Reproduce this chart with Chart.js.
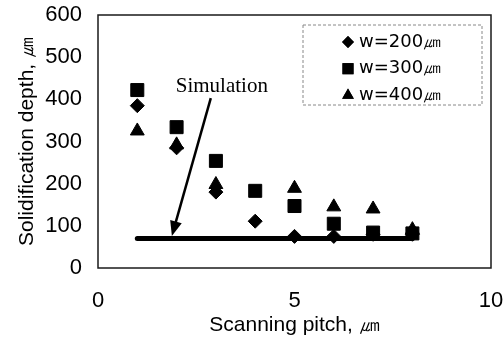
<!DOCTYPE html>
<html>
<head>
<meta charset="utf-8">
<script src="https://cdn.jsdelivr.net/npm/chart.js@4.4.1/dist/chart.umd.min.js"></script>
<style>
html,body{margin:0;padding:0;background:#fff}
#wrap{width:503px;height:346px}
</style>
</head>
<body>
<div id="wrap"><canvas id="chart"></canvas></div>
<script>

/* data */

const pitch = [1,2,3,4,5,6,7,8]
const w200 = [385,285,180,111,75,75,80,80]
const w300 = [422,334,254,183,147,105,84,82]
const w400 = [325,292,198,null,189,145,140,91]

const simPitch = [1,8]
const simDepth = [70,70]

const seriesLabels = ["w=200\u339b","w=300\u339b","w=400\u339b"]

const xTicks = [0,5,10]
const yTicks = [0,100,200,300,400,500,600]

/* annotation anchors (data units) */
const arrowTail = {x:2.87, y:403}
const arrowTip = {x:1.88, y:76}
const simText = {x:3.15, y:430, text:"Simulation"}

const toPoints = (xs,ys)=>xs.map((x,i)=>({x:x,y:ys[i]})).filter(p=>p.y!==null)

const sansFont = "'Liberation Sans', Arial, sans-serif"

/* =========================
   PLOT FRAME
========================= */

const framePlugin = {
id:"frame",
afterDatasetsDraw(chart){
const {ctx, chartArea:a} = chart
ctx.save()
ctx.strokeStyle = "#1a1a1a"
ctx.lineWidth = 1.5
ctx.strokeRect(a.left, a.top, a.right-a.left, a.bottom-a.top)
ctx.restore()
}
}

/* =========================
   ARROW + LABEL
========================= */

const arrowPlugin = {
id:"arrow",
afterDatasetsDraw(chart){
const {ctx, scales:{x, y}} = chart
const x0 = x.getPixelForValue(arrowTail.x), y0 = y.getPixelForValue(arrowTail.y)
const x1 = x.getPixelForValue(arrowTip.x), y1 = y.getPixelForValue(arrowTip.y)
const ang = Math.atan2(y1-y0, x1-x0)
const head = 15, half = 6
ctx.save()
ctx.strokeStyle = "#000"
ctx.fillStyle = "#000"
ctx.lineWidth = 2.5
ctx.beginPath()
ctx.moveTo(x0,y0)
ctx.lineTo(x1 - Math.cos(ang)*head*0.8, y1 - Math.sin(ang)*head*0.8)
ctx.stroke()
ctx.beginPath()
ctx.moveTo(x1,y1)
ctx.lineTo(x1 - Math.cos(ang)*head - Math.sin(ang)*half, y1 - Math.sin(ang)*head + Math.cos(ang)*half)
ctx.lineTo(x1 - Math.cos(ang)*head + Math.sin(ang)*half, y1 - Math.sin(ang)*head - Math.cos(ang)*half)
ctx.closePath()
ctx.fill()
ctx.font = "21px 'Liberation Serif', 'Times New Roman', serif"
ctx.textAlign = "center"
ctx.textBaseline = "middle"
ctx.fillText(simText.text, x.getPixelForValue(simText.x), y.getPixelForValue(simText.y))
ctx.restore()
}
}

/* =========================
   LEGEND INSIDE PLOT
========================= */

const legendPlugin = {
id:"boxLegend",
afterDatasetsDraw(chart){
const {ctx, chartArea:a} = chart
const left = a.right - 188, top = a.top + 10, w = 179, h = 80
ctx.save()
ctx.strokeStyle = "#888"
ctx.lineWidth = 1
ctx.setLineDash([3,2])
ctx.strokeRect(left, top, w, h)
ctx.setLineDash([])
ctx.font = "18px 'DejaVu Sans', sans-serif"
ctx.textAlign = "left"
ctx.textBaseline = "middle"
ctx.fillStyle = "#000"
let row = 0
chart.data.datasets.forEach(ds=>{
if(!ds.inLegend) return
const cy = top + 17 + row*26.7
Chart.helpers.drawPoint(ctx, {
pointStyle: ds.pointStyle,
radius: ds.pointRadius*0.85,
borderWidth: 0
}, left + 45, cy)
ctx.fillStyle = "#000"
ctx.fill()
ctx.fillText(ds.label, left + 56, cy)
row++
})
ctx.restore()
}
}

/* drop the label-overflow padding so the plot box lands where the layout says */
const noOverflow = s=>{
s.paddingLeft = 0
s.paddingRight = 0
s.paddingTop = 0
s.paddingBottom = 0
}

/* =========================
   CHART
========================= */

const canvas = document.getElementById("chart")

new Chart(canvas,{

type:"scatter",

data:{
datasets:[
{
label:seriesLabels[0],
inLegend:true,
data:toPoints(pitch,w200),
pointStyle:"rectRot",
pointRadius:7,
backgroundColor:"#000",
borderColor:"#000",
borderWidth:1
},
{
label:seriesLabels[1],
inLegend:true,
data:toPoints(pitch,w300),
pointStyle:"rect",
pointRadius:9.2,
backgroundColor:"#000",
borderColor:"#000",
borderWidth:1
},
{
label:seriesLabels[2],
inLegend:true,
data:toPoints(pitch,w400),
pointStyle:"triangle",
pointRadius:8,
backgroundColor:"#000",
borderColor:"#000",
borderWidth:1
},
{
label:"Simulation",
type:"line",
data:toPoints(simPitch,simDepth),
borderColor:"#000",
borderWidth:5,
pointRadius:0,
borderCapStyle:"round"
}
]
},

options:{
responsive:true,
maintainAspectRatio:false,
animation:false,
layout:{padding:{top:15,right:12,left:0,bottom:0}},
plugins:{
legend:{display:false},
tooltip:{enabled:false}
},
scales:{
x:{
type:"linear",
min:0,
max:10,
afterBuildTicks(s){ s.ticks = xTicks.map(v=>({value:v})) },
afterFit(s){ s.height = 78; noOverflow(s) },
grid:{display:false, drawTicks:false},
border:{display:false},
ticks:{
color:"#000",
padding:20,
font:{family:sansFont, size:22}
},
title:{
display:true,
text:"Scanning pitch, \u339b",
color:"#000",
font:{family:sansFont, size:21},
padding:{top:0,bottom:8}
}
},
y:{
min:0,
max:600,
afterBuildTicks(s){ s.ticks = yTicks.map(v=>({value:v})) },
afterFit(s){ s.width = 98; noOverflow(s) },
grid:{display:false, drawTicks:false},
border:{display:false},
ticks:{
color:"#000",
padding:16,
font:{family:sansFont, size:22}
},
title:{
display:true,
text:"Solidification depth, \u339b",
color:"#000",
font:{family:sansFont, size:21},
padding:{top:15,bottom:0}
}
}
}
},

plugins:[framePlugin, arrowPlugin, legendPlugin]

})

</script>
</body>
</html>
